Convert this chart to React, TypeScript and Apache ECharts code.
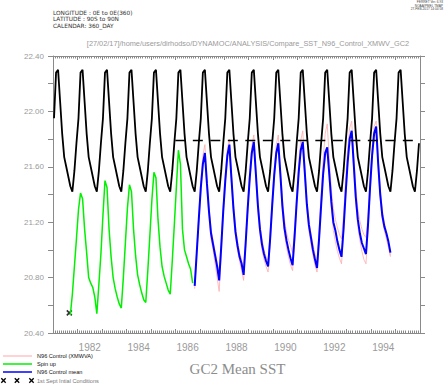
import React, { useEffect, useRef } from "react";
import * as echarts from "echarts";

// ---------- DATA ----------
const yearLabels = [1982, 1984, 1986, 1988, 1990, 1992, 1994];
const xMin = 1981;
const xMax = 1996;
const yMin = 20.4;
const yMax = 22.4;

// Black reference curve, monthly Jan..Dec, 1981..1995
const blackStart = { year: 1981, month: 0 };
const blackValues = [
  21.95, 22.28, 22.30, 22.07, 21.84, 21.67, 21.60, 21.53, 21.46, 21.42, 21.57, 21.77,
  21.95, 22.28, 22.30, 22.07, 21.84, 21.67, 21.60, 21.53, 21.46, 21.42, 21.57, 21.77,
  21.95, 22.28, 22.30, 22.07, 21.84, 21.67, 21.60, 21.53, 21.46, 21.42, 21.57, 21.77,
  21.95, 22.28, 22.30, 22.07, 21.84, 21.67, 21.60, 21.53, 21.46, 21.42, 21.57, 21.77,
  21.95, 22.28, 22.30, 22.07, 21.84, 21.67, 21.60, 21.53, 21.46, 21.42, 21.57, 21.77,
  21.95, 22.28, 22.30, 22.07, 21.84, 21.67, 21.60, 21.53, 21.46, 21.42, 21.57, 21.77,
  21.95, 22.28, 22.30, 22.07, 21.84, 21.67, 21.60, 21.53, 21.46, 21.42, 21.57, 21.77,
  21.95, 22.28, 22.30, 22.07, 21.84, 21.67, 21.60, 21.53, 21.46, 21.42, 21.57, 21.77,
  21.95, 22.28, 22.30, 22.07, 21.84, 21.67, 21.60, 21.53, 21.46, 21.42, 21.57, 21.77,
  21.95, 22.28, 22.30, 22.07, 21.84, 21.67, 21.60, 21.53, 21.46, 21.42, 21.57, 21.77,
  21.95, 22.28, 22.30, 22.07, 21.84, 21.67, 21.60, 21.53, 21.46, 21.42, 21.57, 21.77,
  21.95, 22.28, 22.30, 22.07, 21.84, 21.67, 21.60, 21.53, 21.46, 21.42, 21.57, 21.77,
  21.95, 22.28, 22.30, 22.07, 21.84, 21.67, 21.60, 21.53, 21.46, 21.42, 21.57, 21.77,
  21.95, 22.28, 22.30, 22.07, 21.84, 21.67, 21.60, 21.53, 21.46, 21.42, 21.57, 21.77,
  21.95, 22.28, 22.30, 22.07, 21.84, 21.67, 21.60, 21.53, 21.46, 21.42, 21.57, 21.77,
];

// Spin up, monthly from Sep 1981 to Sep 1986
const spinStart = { year: 1981, month: 8 };
const spinValues = [
  20.53, 20.68, 20.88, 21.08,
  21.29, 21.41, 21.37, 21.15, 20.98, 20.80, 20.76, 20.73, 20.66, 20.54, 20.75, 20.97,
  21.25, 21.50, 21.45, 21.15, 20.95, 20.80, 20.72, 20.66, 20.61, 20.58, 20.80, 21.05,
  21.30, 21.47, 21.42, 21.15, 20.96, 20.82, 20.75, 20.69, 20.64, 20.62, 20.85, 21.10,
  21.36, 21.56, 21.52, 21.22, 21.02, 20.88, 20.81, 20.76, 20.71, 20.68, 20.92, 21.18,
  21.45, 21.72, 21.62, 21.15, 21.00, 20.95, 20.90, 20.86, 20.76,
];

// N96 Control mean, monthly from Oct 1986 to Oct 1994
const ctrlStart = { year: 1986, month: 9 };
const meanValues = [
  20.74, 20.98, 21.22,
  21.45, 21.62, 21.70, 21.48, 21.28, 21.12, 21.04, 20.96, 20.88, 20.78, 21.02, 21.28,
  21.50, 21.68, 21.76, 21.52, 21.30, 21.13, 21.03, 20.95, 20.90, 20.82, 21.05, 21.30,
  21.52, 21.70, 21.78, 21.55, 21.32, 21.15, 21.04, 20.97, 20.92, 20.88, 21.08, 21.32,
  21.54, 21.70, 21.77, 21.55, 21.32, 21.16, 21.07, 21.00, 20.94, 20.89, 21.10, 21.34,
  21.56, 21.72, 21.78, 21.56, 21.33, 21.18, 21.09, 21.00, 20.93, 20.87, 21.08, 21.32,
  21.55, 21.70, 21.74, 21.55, 21.35, 21.20, 21.14, 21.06, 21.00, 20.95, 21.15, 21.40,
  21.63, 21.80, 21.86, 21.62, 21.38, 21.22, 21.12, 21.05, 21.01, 20.97, 21.18, 21.45,
  21.68, 21.84, 21.89, 21.62, 21.40, 21.25, 21.17, 21.12, 21.06, 20.98,
];

// N96 Control (XMWVA) members
const memberAValues = [
  20.76, 21.00, 21.25,
  21.50, 21.68, 21.76, 21.52, 21.30, 21.15, 21.07, 20.99, 20.91, 20.83, 21.06, 21.32,
  21.55, 21.73, 21.80, 21.56, 21.33, 21.17, 21.06, 20.98, 20.93, 20.86, 21.09, 21.35,
  21.57, 21.75, 21.83, 21.58, 21.35, 21.18, 21.08, 21.00, 20.95, 20.92, 21.12, 21.36,
  21.58, 21.76, 21.83, 21.60, 21.37, 21.22, 21.13, 21.07, 21.03, 20.98, 21.15, 21.38,
  21.62, 21.79, 21.86, 21.60, 21.37, 21.22, 21.12, 21.04, 20.97, 20.91, 21.14, 21.40,
  21.65, 21.84, 21.91, 21.66, 21.44, 21.30, 21.22, 21.16, 21.11, 21.08, 21.25, 21.50,
  21.72, 21.88, 21.93, 21.68, 21.45, 21.30, 21.21, 21.15, 21.11, 21.09, 21.24, 21.50,
  21.73, 21.89, 21.93, 21.66, 21.44, 21.29, 21.20, 21.13, 21.06, 20.96,
];
const memberBValues = [
  20.72, 20.96, 21.20,
  21.42, 21.60, 21.68, 21.44, 21.24, 21.08, 21.00, 20.90, 20.80, 20.70, 20.97, 21.25,
  21.48, 21.66, 21.74, 21.50, 21.27, 21.10, 21.00, 20.92, 20.85, 20.78, 21.02, 21.28,
  21.50, 21.68, 21.76, 21.52, 21.28, 21.12, 21.00, 20.93, 20.88, 20.84, 21.04, 21.29,
  21.51, 21.68, 21.75, 21.52, 21.28, 21.12, 21.02, 20.95, 20.89, 20.85, 21.06, 21.31,
  21.53, 21.70, 21.76, 21.53, 21.30, 21.14, 21.05, 20.96, 20.89, 20.84, 21.05, 21.30,
  21.52, 21.67, 21.71, 21.51, 21.30, 21.14, 21.06, 20.99, 20.94, 20.90, 21.12, 21.38,
  21.61, 21.78, 21.84, 21.58, 21.34, 21.17, 21.07, 20.99, 20.93, 20.90, 21.14, 21.42,
  21.65, 21.81, 21.87, 21.60, 21.37, 21.22, 21.14, 21.08, 21.02, 20.95,
];

// 1st Sept initial conditions marker
const initialConditions = [[1981 + 8 / 12, 20.545]];

// dashed reference level
const dashedLevel = 21.79;
const dashedRange = [1986.0, 1996.0];

// Header texts
const headerLines = [
  "LONGITUDE : 0E to 0E(360)",
  "LATITUDE : 90S to 90N",
  "CALENDAR: 360_DAY",
];
const pathLine =
  "[27/02/17]/home/users/dirhodso/DYNAMOC/ANALYSIS/Compare_SST_N96_Control_XMWV_GC2";
const ferretLines = ["FERRET Ver. 6.93", "NOAA/PMEL TMAP", "27-FEB-2017 14:04:58"];
const chartTitle = "GC2 Mean SST";
const legendNames = [
  "N96 Control (XMWVA)",
  "Spin up",
  "N96 Control mean",
  "1st Sept Intial Conditions",
];

// ---------- helpers ----------
function toPairs(start: { year: number; month: number }, values: number[]) {
  return values.map((v, i) => [start.year + (start.month + i + 0.5) / 12, v]);
}

const GRAY = "#9a9a9a";
const AXIS = "#8a8a8a";
const SANS = "Liberation Sans, Arial, sans-serif";
const DEJAVU = "DejaVu Sans, sans-serif";

export default function App() {
  const ref = useRef<HTMLDivElement>(null);
  useEffect(() => {
    document.body.style.margin = "0";
    const chart = echarts.init(ref.current!, undefined, { renderer: "svg" });

    const gridLeft = 53;
    const gridTop = 56;
    const gridRight = 25;
    const gridBottom = 51;

    const baseX = {
      type: "value" as const,
      min: xMin,
      max: xMax,
      splitLine: { show: false },
    };

    const xAxes = [
      {
        ...baseX,
        position: "bottom",
        axisLine: { show: true, lineStyle: { color: AXIS, width: 1 } },
        axisTick: { show: false },
        axisLabel: {
          show: true,
          customValues: yearLabels.map((y) => y + 0.5),
          formatter: (v: number) => String(Math.floor(v)),
          color: GRAY,
          fontSize: 10,
          fontFamily: SANS,
          margin: 9,
        },
      },
      {
        ...baseX,
        position: "bottom",
        interval: 1,
        axisLine: { show: false },
        axisLabel: { show: false },
        axisTick: { show: true, inside: true, length: 4, lineStyle: { color: AXIS } },
        minorTick: { show: true, splitNumber: 12, length: 2.5, lineStyle: { color: AXIS } },
      },
      {
        ...baseX,
        position: "top",
        axisLine: { show: true, lineStyle: { color: AXIS, width: 1 } },
        axisTick: { show: false },
        axisLabel: { show: false },
      },
      {
        ...baseX,
        position: "top",
        interval: 1,
        axisLine: { show: false },
        axisLabel: { show: false },
        axisTick: { show: true, inside: true, length: 4, lineStyle: { color: AXIS } },
        minorTick: { show: true, splitNumber: 12, length: 2.5, lineStyle: { color: AXIS } },
      },
    ];

    const baseY = {
      type: "value" as const,
      min: yMin,
      max: yMax,
      interval: 0.2,
      splitLine: { show: false },
      axisLine: { show: true, lineStyle: { color: AXIS, width: 1 } },
      axisTick: { show: true, inside: false, length: 5, lineStyle: { color: AXIS } },
    };

    const yAxes = [
      {
        ...baseY,
        position: "left",
        axisLabel: {
          show: true,
          formatter: (v: number) => (Math.round(v * 10) % 4 === 0 ? v.toFixed(2) : ""),
          color: GRAY,
          fontSize: 8,
          fontFamily: SANS,
          margin: 9,
        },
      },
      {
        ...baseY,
        position: "right",
        axisLabel: { show: false },
      },
    ];

    const legendX0 = 3;
    const legendX1 = 32;
    const legendTextX = 37;
    const legendYs = [356, 364, 372, 380.5];
    const legendColors = ["#ffc4c4", "#00f000", "#0000ff"];

    const graphics: any[] = [];
    headerLines.forEach((t, i) => {
      graphics.push({
        type: "text",
        x: 53,
        y: 12.5 + i * 6.5,
        style: {
          text: t,
          fill: "#333",
          font: `5.8px ${DEJAVU}`,
          align: "left",
          verticalAlign: "middle",
        },
      });
    });
    graphics.push({
      type: "text",
      x: 248,
      y: 43,
      style: {
        text: pathLine,
        fill: GRAY,
        font: `7.35px ${SANS}`,
        align: "center",
        verticalAlign: "middle",
      },
    });
    ferretLines.forEach((t, i) => {
      graphics.push({
        type: "text",
        x: 443,
        y: 2 + i * 3.3,
        style: {
          text: t,
          fill: "#444",
          font: `3.2px ${SANS}`,
          align: "right",
          verticalAlign: "middle",
        },
      });
    });
    graphics.push({
      type: "text",
      x: 237.5,
      y: 369,
      style: {
        text: chartTitle,
        fill: "#8c8c8c",
        font: `15px "Liberation Serif", serif`,
        align: "center",
        verticalAlign: "middle",
      },
    });
    legendColors.forEach((c, i) => {
      graphics.push({
        type: "line",
        shape: { x1: legendX0, y1: legendYs[i], x2: legendX1, y2: legendYs[i] },
        style: { stroke: c, lineWidth: 1.5 },
      });
    });
    legendNames.forEach((t, i) => {
      graphics.push({
        type: "text",
        x: legendTextX,
        y: legendYs[i],
        style: {
          text: t,
          fill: i === 3 ? "#777" : "#111",
          font: `5.6px ${SANS}`,
          align: "left",
          verticalAlign: "middle",
        },
      });
    });
    [3.5, 17, 31.5].forEach((cx) => {
      const cy = legendYs[3];
      const s = 2.2;
      graphics.push({
        type: "line",
        shape: { x1: cx - s, y1: cy - s, x2: cx + s, y2: cy + s },
        style: { stroke: "#000", lineWidth: 1.3 },
      });
      graphics.push({
        type: "line",
        shape: { x1: cx - s, y1: cy + s, x2: cx + s, y2: cy - s },
        style: { stroke: "#000", lineWidth: 1.3 },
      });
    });

    const lineBase = {
      type: "line" as const,
      xAxisIndex: 0,
      yAxisIndex: 0,
      symbol: "none",
      showSymbol: false,
      silent: true,
    };

    chart.setOption({
      animation: false,
      grid: { left: gridLeft, right: gridRight, top: gridTop, bottom: gridBottom, containLabel: false },
      xAxis: xAxes,
      yAxis: yAxes,
      graphic: graphics,
      series: [
        {
          ...lineBase,
          name: "Reference",
          data: toPairs(blackStart, blackValues),
          lineStyle: { color: "#000", width: 1.8 },
        },
        {
          ...lineBase,
          name: "N96 Control (XMWVA) a",
          data: toPairs(ctrlStart, memberAValues),
          lineStyle: { color: "#ffaaaa", width: 0.8 },
        },
        {
          ...lineBase,
          name: "N96 Control (XMWVA) b",
          data: toPairs(ctrlStart, memberBValues),
          lineStyle: { color: "#ffaaaa", width: 0.8 },
        },
        {
          ...lineBase,
          name: "Spin up",
          data: toPairs(spinStart, spinValues),
          lineStyle: { color: "#00f000", width: 1.5 },
        },
        {
          ...lineBase,
          name: "N96 Control mean",
          data: toPairs(ctrlStart, meanValues),
          lineStyle: { color: "#0000ff", width: 2 },
        },
        {
          ...lineBase,
          name: "Level",
          data: [
            [dashedRange[0], dashedLevel],
            [dashedRange[1], dashedLevel],
          ],
          lineStyle: { color: "#000", width: 1.5, type: [10, 7.5] },
        },
        {
          type: "scatter",
          name: "1st Sept Intial Conditions",
          data: initialConditions,
          symbol: "path://M0,0L10,10M10,0L0,10",
          symbolSize: 5,
          itemStyle: { color: "none", borderColor: "#000", borderWidth: 1.6 },
          silent: true,
        },
      ],
    });
    return () => chart.dispose();
  }, []);

  return (
    <div
      ref={ref}
      style={{ position: "absolute", left: 0, top: 0, width: 445, height: 384 }}
    />
  );
}
